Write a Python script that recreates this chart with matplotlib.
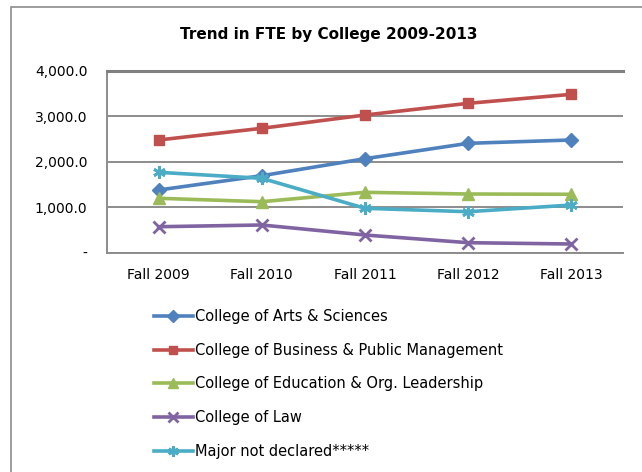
import matplotlib
matplotlib.use("Agg")
import matplotlib.pyplot as plt
from matplotlib.patches import Rectangle

categories = ["Fall 2009", "Fall 2010", "Fall 2011", "Fall 2012", "Fall 2013"]
arts_sciences = [1378, 1692, 2066, 2404, 2477]
business = [2477, 2734, 3026, 3283, 3481]
education = [1196, 1121, 1327, 1290, 1284]
law = [571, 609, 389, 220, 191]
undeclared = [1767, 1635, 976, 901, 1048]
series_names = ["College of Arts & Sciences", "College of Business & Public Management",
                "College of Education & Org. Leadership", "College of Law",
                "Major not declared*****"]
y_ticks = [0, 1000, 2000, 3000, 4000]
y_tick_labels = ["-", "1,000.0", "2,000.0", "3,000.0", "4,000.0"]
title = "Trend in FTE by College 2009-2013"

plt.rcParams['font.family'] = ['DejaVu Sans']

fig = plt.figure(figsize=(6.42, 4.72), dpi=100)
W, H = 642, 472
ax = fig.add_axes([107 / W, 1 - 252.7 / H, (623 - 107) / W, (252.7 - 70.7) / H])

# outer chart border
fig.patches.append(Rectangle((11 / W, -0.1), 1.2, 1 - 7 / H + 0.1, transform=fig.transFigure,
                             fill=False, edgecolor="#8c8c8c", linewidth=1.2))

styles = [
    ("#4F81BD", "D", 7),
    ("#C0504D", "s", 7.5),
    ("#9BBB59", "^", 8),
    ("#8064A2", "x", 8),
    ("#4BACC6", (6, 2, 0), 9),
]
data = [arts_sciences, business, education, law, undeclared]
x = list(range(len(categories)))
handles = []
for vals, name, (c, m, ms) in zip(data, series_names, styles):
    mew = 2 if m in ("x",) or isinstance(m, tuple) else 1
    h, = ax.plot(x, vals, color=c, linewidth=2.6, marker=m, markersize=ms,
                 markerfacecolor=c, markeredgecolor=c, markeredgewidth=mew,
                 label=name, zorder=3, clip_on=False)
    handles.append(h)

ax.set_xlim(-0.5, len(categories) - 0.5)
ax.set_ylim(0, 4000)
ax.set_yticks(y_ticks)
ax.set_yticklabels(y_tick_labels, fontsize=10)
ax.set_xticks(x)
ax.set_xticklabels(categories, fontsize=10)
ax.tick_params(axis="both", length=0, colors="black")
ax.tick_params(axis="y", pad=14)
ax.tick_params(axis="x", pad=11)
ax.grid(axis="y", color="#8c8c8c", linewidth=1.4, zorder=1)
ax.set_axisbelow(True)
ax.spines["right"].set_visible(False)
ax.spines["top"].set_color("#808080")
ax.spines["top"].set_linewidth(2.2)
for s in ["left", "bottom"]:
    ax.spines[s].set_color("#8c8c8c")
    ax.spines[s].set_linewidth(1.4)

fig.text(329 / W, 1 - 35 / H, title, ha="center", va="center", fontsize=11,
         fontweight="bold")

leg = fig.legend(handles=handles, loc="upper left",
                 bbox_to_anchor=(148 / W, 1 - 303 / H), frameon=False,
                 fontsize=10.5, handlelength=2.67, handletextpad=0.12,
                 labelspacing=1.29, borderaxespad=0, markerscale=0.85)

fig.savefig("out.png", dpi=100)
